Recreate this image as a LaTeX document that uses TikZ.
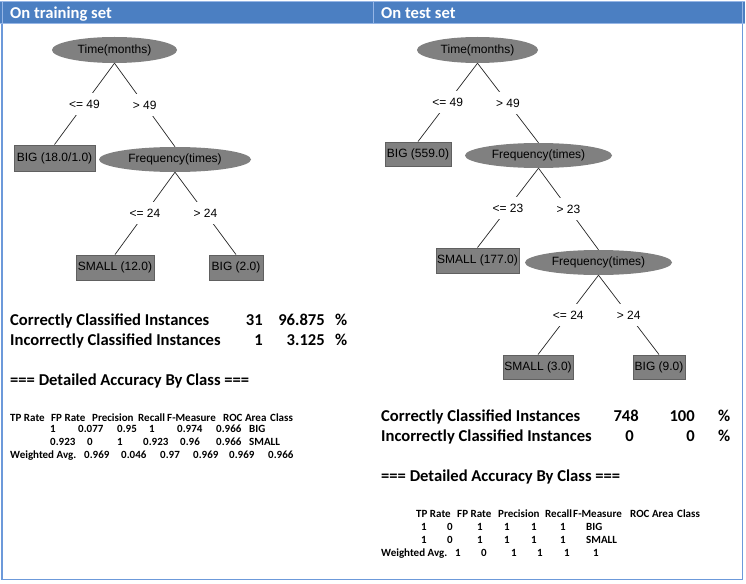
\documentclass[tikz,border=0pt]{standalone}
\usepackage{fontspec}
\setmainfont{Carlito}
\newfontfamily\treefont{Liberation Sans}
\usetikzlibrary{shapes.geometric}
\definecolor{hdrblue}{RGB}{75,127,194}
\definecolor{brdblue}{RGB}{108,153,218}
\definecolor{lightblue}{RGB}{150,182,230}
\definecolor{nodegray}{RGB}{128,128,128}
\definecolor{boxedge}{RGB}{96,96,96}
\begin{document}
\begin{tikzpicture}[x=1pt,y=-1pt,
  treetext/.style={font=\treefont\fontsize{12}{14}\selectfont},
  leaf/.style={treetext,rectangle,fill=nodegray,draw=boxedge,line width=0.9pt,inner sep=0pt},
  test/.style={treetext,ellipse,fill=nodegray,inner sep=0pt},
  elabel/.style={treetext,fill=white,inner xsep=1.5pt,inner ysep=0pt,minimum height=22pt},
  edge/.style={draw=black!85,line width=0.7pt},
  stat/.style={font=\bfseries\fontsize{16.6}{20}\selectfont,inner sep=0pt},
  cell/.style={font=\bfseries\fontsize{11}{13}\selectfont,inner sep=0pt,anchor=base west},
  ttl/.style={font=\bfseries\fontsize{16.6}{20}\selectfont,text=white,inner sep=0pt,anchor=base west}]

\useasboundingbox (0,0) rectangle (746,583);
\fill[white] (0,0) rectangle (746,583);

% header band
\fill[hdrblue] (0,1) rectangle (745,24);
\draw[lightblue,line width=1pt] (0,1.5) -- (745,1.5);
\draw[lightblue,line width=1pt] (0,24) -- (745,24);
\draw[lightblue,line width=0.8pt] (373,1) -- (373,24);
\draw[lightblue,line width=0.8pt] (2,1) -- (2,24);
\draw[lightblue,line width=0.8pt] (742.5,1) -- (742.5,24);
\node[ttl] (h1) at (10,19) {On training set};
\node[ttl] (h2) at (381,19) {On test set};

% body border
\draw[brdblue,line width=1.6pt] (2,24) -- (2,579.5) -- (742.5,579.5) -- (742.5,24);

% ---------------- left tree ----------------
\node[test,minimum width=125pt,minimum height=26pt] (t1) at (114.5,50) {Time(months)};
\node[leaf,minimum width=81pt,minimum height=26pt] (b1) at (54.5,158) {BIG (18.0/1.0)};
\node[test,minimum width=152pt,minimum height=25pt] (f1) at (175,159.5) {Frequency(times)};
\node[leaf,minimum width=78pt,minimum height=25pt] (s1) at (115,267.5) {SMALL (12.0)};
\node[leaf,minimum width=54pt,minimum height=25pt] (b2) at (236,267.5) {BIG (2.0)};

\draw[edge] (t1.south) -- (b1.north) node[elabel,midway] (l1) {<= 49};
\draw[edge] (t1.south) -- (f1.north) node[elabel,midway] (l2) {> 49};
\draw[edge] (f1.south) -- (s1.north) node[elabel,midway] (l3) {<= 24};
\draw[edge] (f1.south) -- (b2.north) node[elabel,midway] (l4) {> 24};

% ---------------- right tree ----------------
\node[test,minimum width=121pt,minimum height=26pt] (t2) at (477.5,50) {Time(months)};
\node[leaf,minimum width=66pt,minimum height=24pt] (b3) at (418,154) {BIG (559.0)};
\node[test,minimum width=147pt,minimum height=25pt] (f2) at (538.5,155.5) {Frequency(times)};
\node[leaf,minimum width=83pt,minimum height=25pt] (s2) at (477.5,260.5) {SMALL (177.0)};
\node[test,minimum width=147pt,minimum height=25pt] (f3) at (598.5,262.5) {Frequency(times)};
\node[leaf,minimum width=70pt,minimum height=24pt] (s3) at (538,367) {SMALL (3.0)};
\node[leaf,minimum width=52pt,minimum height=24pt] (b4) at (659,367) {BIG (9.0)};

\draw[edge] (t2.south) -- (b3.north) node[elabel,midway] (r1) {<= 49};
\draw[edge] (t2.south) -- (f2.north) node[elabel,midway] (r2) {> 49};
\draw[edge] (f2.south) -- (s2.north) node[elabel,midway] (r3) {<= 23};
\draw[edge] (f2.south) -- (f3.north) node[elabel,midway] (r4) {> 23};
\draw[edge] (f3.south) -- (s3.north) node[elabel,midway] (r5) {<= 24};
\draw[edge] (f3.south) -- (b4.north) node[elabel,midway] (r6) {> 24};

% ---------------- left statistics ----------------
\node[stat,anchor=base west] (lc1) at (10,325) {Correctly Classified Instances};
\node[stat,anchor=base east] (lc2) at (263,325) {31};
\node[stat,anchor=base east] (lc3) at (325,325) {96.875};
\node[stat,anchor=base west] (lc4) at (335,325) {\%};
\node[stat,anchor=base west] (li1) at (10,345) {Incorrectly Classified Instances};
\node[stat,anchor=base east] (li2) at (263,345) {1};
\node[stat,anchor=base east] (li3) at (325,345) {3.125};
\node[stat,anchor=base west] (li4) at (335,345) {\%};
\node[stat,anchor=base west] (ld) at (10,385.5) {=== Detailed Accuracy By Class ===};

\foreach \x/\t [count=\i] in {10/TP Rate,51/FP Rate,92/Precision,138/Recall,167/F-Measure,223/ROC Area,270/Class}
  \node[cell] (lh\i) at (\x,421) {\t};
\foreach \x/\t [count=\i] in {50/1,78/0.077,117/0.95,149/1,177/0.974,216/0.966,249/BIG}
  \node[cell] (la\i) at (\x,432.7) {\t};
\foreach \x/\t [count=\i] in {50/0.923,87/0,117/1,143/0.923,180/0.96,216/0.966,249/SMALL}
  \node[cell] (lb\i) at (\x,445.5) {\t};
\foreach \x/\t [count=\i] in {10/Weighted Avg.,84/0.969,121/0.046,160/0.97,193/0.969,229/0.969,268/0.966}
  \node[cell] (lw\i) at (\x,458.3) {\t};

% ---------------- right statistics ----------------
\node[stat,anchor=base west] (rc1) at (381,421) {Correctly Classified Instances};
\node[stat,anchor=base east] (rc2) at (639,421) {748};
\node[stat,anchor=base east] (rc3) at (695,421) {100};
\node[stat,anchor=base west] (rc4) at (718,421) {\%};
\node[stat,anchor=base west] (ri1) at (381,441) {Incorrectly Classified Instances};
\node[stat,anchor=base east] (ri2) at (634,441) {0};
\node[stat,anchor=base east] (ri3) at (695,441) {0};
\node[stat,anchor=base west] (ri4) at (718,441) {\%};
\node[stat,anchor=base west] (rd) at (381,481.7) {=== Detailed Accuracy By Class ===};

\foreach \x/\t [count=\i] in {416/TP Rate,457/FP Rate,498/Precision,545/Recall,573/F-Measure,630/ROC Area,677/Class}
  \node[cell] (rh\i) at (\x,517.3) {\t};
\foreach \x/\t [count=\i] in {421/1,447/0,477/1,504/1,531/1,560/1,586/BIG}
  \node[cell] (ra\i) at (\x,530) {\t};
\foreach \x/\t [count=\i] in {421/1,447/0,477/1,504/1,531/1,560/1,586/SMALL}
  \node[cell] (rb\i) at (\x,543) {\t};
\foreach \x/\t [count=\i] in {381/Weighted Avg.,455/1,481/0,511/1,537/1,564/1,593/1}
  \node[cell] (rw\i) at (\x,556) {\t};
\end{tikzpicture}
\end{document}
